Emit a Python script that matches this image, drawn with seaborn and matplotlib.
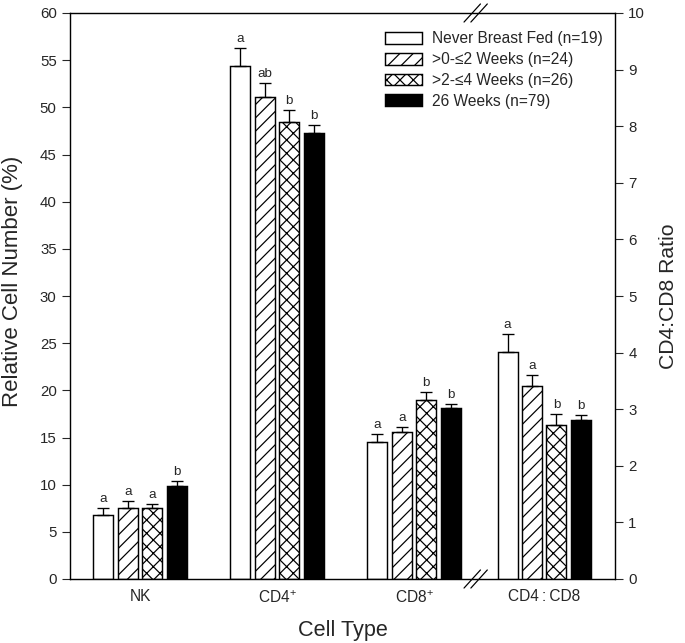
import numpy as np
import pandas as pd
import matplotlib
matplotlib.use("Agg")
import matplotlib.pyplot as plt
import matplotlib.transforms as mtransforms
from matplotlib.patches import Patch
from matplotlib.container import BarContainer
import seaborn as sns

# ---------------- data ----------------
categories = ["NK", "CD4$^{+}$", "CD8$^{+}$"]
ratio_category = "CD4\u2009:\u2009CD8"
groups = ["Never Breast Fed (n=19)", ">0-\u22642 Weeks (n=24)",
          ">2-\u22644 Weeks (n=26)", "26 Weeks (n=79)"]

nk = [6.8, 7.5, 7.5, 9.9]
nk_err = [0.7, 0.8, 0.5, 0.5]
nk_letters = ["a", "a", "a", "b"]

cd4 = [54.4, 51.1, 48.4, 47.3]
cd4_err = [1.9, 1.5, 1.3, 0.8]
cd4_letters = ["a", "ab", "b", "b"]

cd8 = [14.5, 15.6, 19.0, 18.1]
cd8_err = [0.9, 0.5, 0.8, 0.5]
cd8_letters = ["a", "a", "b", "b"]

ratio = [4.01, 3.41, 2.72, 2.81]
ratio_err = [0.32, 0.19, 0.20, 0.09]
ratio_letters = ["a", "a", "b", "b"]

left_positions = [0.0, 1.0, 2.0]
ratio_position = 2.95

# ---------------- style ----------------
DPI = 80
sns.set_style("ticks")
plt.rcParams["font.family"] = ["Liberation Sans", "DejaVu Sans"]
plt.rcParams["mathtext.fontset"] = "custom"
plt.rcParams["mathtext.rm"] = "Liberation Sans"
plt.rcParams["mathtext.it"] = "Liberation Sans:italic"
plt.rcParams["mathtext.bf"] = "Liberation Sans:bold"
plt.rcParams["hatch.linewidth"] = 1.1
plt.rcParams["hatch.color"] = "black"

fig = plt.figure(figsize=(685 / DPI, 643 / DPI), dpi=DPI)
ax = fig.add_axes([70 / 685, 1 - 579 / 643, 545 / 685, 566 / 643])
ax2 = ax.twinx()

palette = ["white", "white", "white", "black"]
hatches = ["", "//", "xx", ""]

left_vals = [nk, cd4, cd8]
left_errs = [nk_err, cd4_err, cd8_err]
left_lets = [nk_letters, cd4_letters, cd8_letters]

df_left = pd.DataFrame({
    "pos": np.repeat(left_positions, len(groups)),
    "value": np.concatenate(left_vals),
    "group": groups * len(left_positions),
})
df_right = pd.DataFrame({
    "pos": [ratio_position] * len(groups),
    "value": ratio,
    "group": groups,
})

common = dict(x="pos", y="value", hue="group", hue_order=groups,
              palette=palette, native_scale=True, width=0.712, gap=0.18,
              edgecolor="black", linewidth=1.3, errorbar=None, legend=False,
              saturation=1)
sns.barplot(data=df_left, ax=ax, **common)
sns.barplot(data=df_right, ax=ax2, **common)

# hatches, error bars and letters
def decorate(axis, errs_by_pos, lets_by_pos, pad):
    bars = [c for c in axis.containers if isinstance(c, BarContainer)]
    for gi, cont in enumerate(bars):
        for pi, p in enumerate(cont.patches):
            p.set_hatch(hatches[gi])
            p.set_edgecolor("black")
            xc = p.get_x() + p.get_width() / 2
            top = p.get_height()
            e = errs_by_pos[pi][gi]
            axis.errorbar(xc, top, yerr=[[0], [e]], fmt="none", ecolor="black",
                          elinewidth=1.2, capsize=5.5, capthick=1.2, zorder=3)
            axis.text(xc, top + e + pad, lets_by_pos[pi][gi], ha="center",
                      va="bottom", fontsize=12)

decorate(ax, left_errs, left_lets, 0.3)
decorate(ax2, [ratio_err], [ratio_letters], 0.3 / 6)

# axes limits / ticks
xlim = (-0.511, 3.467)
ax.set_xlim(*xlim)
ax2.set_xlim(*xlim)
ax.set_ylim(0, 60)
ax2.set_ylim(0, 10)
ax.set_yticks(np.arange(0, 61, 5))
ax2.set_yticks(np.arange(0, 11, 1))
ax.set_xticks(left_positions + [ratio_position])
ax.set_xticklabels(categories + [ratio_category])
ax.tick_params(axis="x", length=0, pad=9, labelsize=14)
ax.tick_params(axis="y", direction="out", length=7, width=1.0, pad=5, labelsize=13.5)
ax2.tick_params(axis="y", direction="out", length=7, width=1.0, pad=5, labelsize=13.5)
ax.set_xlabel("Cell Type", fontsize=19.5, labelpad=13)
ax.set_ylabel("Relative Cell Number (%)", fontsize=20)
ax.yaxis.set_label_coords(-0.086, 0.525)
ax2.set_ylabel("CD4:CD8 Ratio", fontsize=19, labelpad=12)
for a in (ax, ax2):
    for s in a.spines.values():
        s.set_visible(True)
        s.set_linewidth(1.1)
        s.set_color("black")

# axis break marks
trans = mtransforms.blended_transform_factory(ax.transData, ax.transAxes)
for yb in (0.0, 1.0):
    for dx in (-0.025, 0.025):
        ax2.plot([2.45 + dx - 0.06, 2.45 + dx + 0.06], [yb - 0.016, yb + 0.016],
                 transform=trans, color="black", lw=1.1, clip_on=False)

# legend
handles = [Patch(facecolor=palette[i], edgecolor="black", hatch=hatches[i],
                 linewidth=1.3) for i in range(len(groups))]
ax2.legend(handles, groups, loc="upper right", bbox_to_anchor=(1.0, 0.99),
           frameon=False, fontsize=14, handlelength=2.4, handleheight=0.8,
           handletextpad=0.6, labelspacing=0.38, borderaxespad=0.4)

fig.savefig("out.png", dpi=DPI)
